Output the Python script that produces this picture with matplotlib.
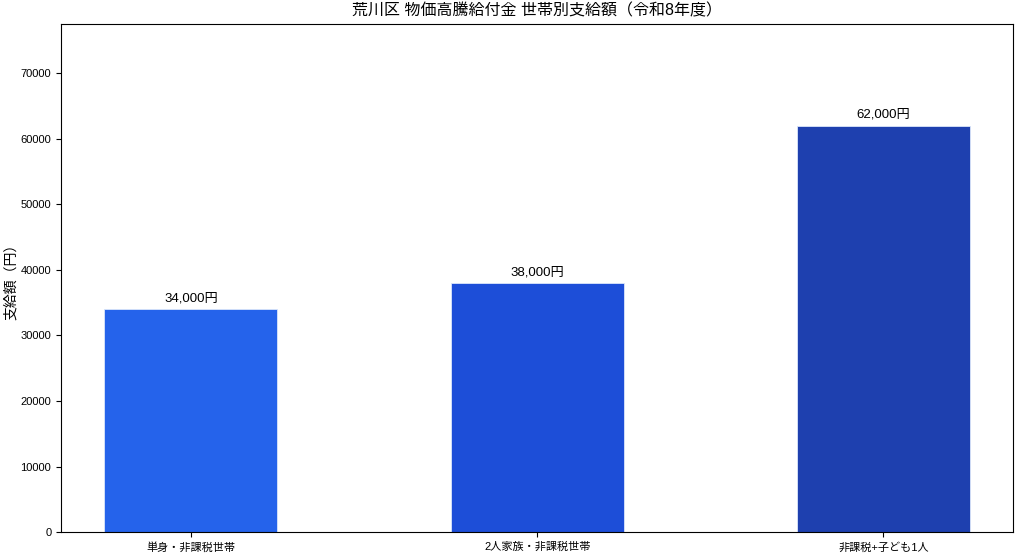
import matplotlib
matplotlib.use("Agg")
import matplotlib.pyplot as plt

plt.rcParams['font.family'] = ['Liberation Sans', 'Noto Sans CJK JP', 'DejaVu Sans']

categories = ["単身・非課税世帯", "2人家族・非課税世帯", "非課税+子ども1人"]
values = [34000, 38000, 62000]
colors = ["#2563eb", "#1d4ed8", "#1e40af"]
title = "荒川区 物価高騰給付金 世帯別支給額（令和8年度）"
ylabel = "支給額（円）"

fig, ax = plt.subplots(figsize=(10.24, 5.55), dpi=100)
fig.subplots_adjust(left=0.0596, right=0.9895, top=0.957, bottom=0.041)
bars = ax.bar(categories, values, width=0.5, color=colors, edgecolor="#dbe6fb", linewidth=0.6)
for b, v in zip(bars, values):
    ax.text(b.get_x() + b.get_width() / 2, v + 700, f"{v:,}円", ha="center", va="bottom", fontsize=9.5)
ax.set_ylim(0, max(values) * 1.25)
ax.set_title(title, fontsize=11.5, pad=6)
ax.set_ylabel(ylabel, fontsize=10, labelpad=1.5)
ax.tick_params(axis='both', labelsize=8)
fig.savefig("out.png", dpi=100)
